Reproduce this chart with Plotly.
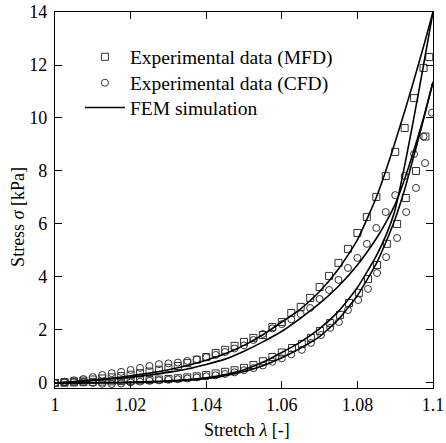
import plotly.graph_objects as go

# ---------------- data ----------------
lam_mfd_load = [1.0000, 1.0025, 1.0050, 1.0075, 1.0100, 1.0125, 1.0150, 1.0175, 1.0200, 1.0225,
                1.0250, 1.0275, 1.0300, 1.0325, 1.0350, 1.0375, 1.0400, 1.0425, 1.0450, 1.0475,
                1.0500, 1.0525, 1.0550, 1.0575, 1.0600, 1.0625, 1.0650, 1.0675, 1.0700, 1.0725,
                1.0750, 1.0775, 1.0800, 1.0825, 1.0850, 1.0875, 1.0900, 1.0925, 1.0950, 1.0975, 1.0990]
sig_mfd_load = [0.00, 0.03, 0.06, 0.09, 0.13, 0.17, 0.21, 0.26, 0.31, 0.37,
                0.43, 0.50, 0.57, 0.64, 0.75, 0.88, 0.98, 1.13, 1.25, 1.40,
                1.55, 1.70, 1.81, 2.11, 2.30, 2.64, 2.87, 3.21, 3.62, 4.04,
                4.53, 5.06, 5.66, 6.26, 7.02, 7.81, 8.72, 9.62, 10.75, 11.89, 12.30]

lam_mfd_unload = [1.0980, 1.0955, 1.0928, 1.0905, 1.0878, 1.0852, 1.0828, 1.0804, 1.0778, 1.0754,
                  1.0728, 1.0701, 1.0677, 1.0653, 1.0627, 1.0600, 1.0575, 1.0550, 1.0525, 1.0500,
                  1.0475, 1.0450, 1.0425, 1.0400, 1.0375, 1.0350, 1.0325, 1.0300, 1.0275, 1.0250,
                  1.0225, 1.0200, 1.0175, 1.0150, 1.0125, 1.0100, 1.0075, 1.0050, 1.0025, 1.0000]
sig_mfd_unload = [9.30, 8.00, 6.98, 6.00, 5.25, 4.45, 3.92, 3.40, 3.02, 2.57,
                  2.26, 1.96, 1.70, 1.47, 1.32, 1.15, 0.98, 0.82, 0.68, 0.57,
                  0.48, 0.42, 0.36, 0.30, 0.25, 0.21, 0.18, 0.15, 0.13, 0.11,
                  0.10, 0.08, 0.07, 0.06, 0.05, 0.04, 0.03, 0.02, 0.01, 0.00]

lam_cfd_load = [1.0000, 1.0025, 1.0050, 1.0075, 1.0100, 1.0125, 1.0150, 1.0175, 1.0200, 1.0225,
                1.0250, 1.0275, 1.0300, 1.0325, 1.0350, 1.0375, 1.0400, 1.0425, 1.0450, 1.0475,
                1.0500, 1.0525, 1.0550, 1.0575, 1.0600, 1.0625, 1.0650, 1.0675, 1.0700, 1.0725,
                1.0750, 1.0775, 1.0800, 1.0825, 1.0850, 1.0875, 1.0900, 1.0925, 1.0950, 1.0975, 1.0997]
sig_cfd_load = [0.00, 0.05, 0.10, 0.15, 0.22, 0.30, 0.37, 0.42, 0.49, 0.57,
                0.64, 0.71, 0.74, 0.77, 0.83, 0.89, 0.97, 1.06, 1.17, 1.30,
                1.42, 1.62, 1.85, 2.06, 2.22, 2.40, 2.60, 2.83, 3.17, 3.51,
                3.89, 4.34, 4.72, 5.25, 5.85, 6.45, 7.09, 7.81, 8.64, 9.30, 10.20]

lam_cfd_unload = [1.0979, 1.0955, 1.0929, 1.0905, 1.0876, 1.0852, 1.0828, 1.0802, 1.0775, 1.0751,
                  1.0728, 1.0704, 1.0677, 1.0653, 1.0625, 1.0600, 1.0575, 1.0550, 1.0525, 1.0500,
                  1.0475, 1.0450, 1.0425, 1.0400, 1.0375, 1.0350, 1.0325, 1.0300, 1.0275, 1.0250,
                  1.0225, 1.0200, 1.0175, 1.0150, 1.0125, 1.0100, 1.0075, 1.0050, 1.0025, 1.0000]
sig_cfd_unload = [8.30, 7.36, 6.45, 5.47, 4.75, 4.15, 3.55, 3.13, 2.75, 2.30,
                  2.08, 1.81, 1.51, 1.25, 1.08, 0.93, 0.80, 0.66, 0.56, 0.48,
                  0.40, 0.34, 0.29, 0.25, 0.21, 0.17, 0.14, 0.12, 0.10, 0.08,
                  0.05, 0.02, -0.02, -0.04, -0.03, 0.00, 0.02, 0.03, 0.02, 0.00]

# FEM simulation curves
lam_fem = [1.000, 1.005, 1.010, 1.015, 1.020, 1.025, 1.030, 1.035, 1.040, 1.045,
           1.050, 1.055, 1.060, 1.065, 1.070, 1.075, 1.080, 1.085, 1.0875, 1.090,
           1.0925, 1.095, 1.0975, 1.100]
fem_mfd_load = [0.00, 0.05, 0.11, 0.18, 0.27, 0.37, 0.50, 0.66, 0.86, 1.10,
                1.42, 1.82, 2.30, 2.80, 3.45, 4.30, 5.40, 7.00, 8.00, 9.10,
                10.25, 11.45, 12.70, 14.00]
fem_mfd_unload = [0.00, 0.00, 0.01, 0.02, 0.03, 0.05, 0.08, 0.13, 0.20, 0.32,
                  0.50, 0.78, 1.15, 1.55, 2.05, 2.70, 3.60, 4.80, 5.55, 6.55,
                  8.20, 10.05, 12.00, 14.00]
fem_cfd_load = [0.00, 0.04, 0.09, 0.15, 0.22, 0.30, 0.40, 0.53, 0.70, 0.90,
                1.20, 1.55, 1.95, 2.45, 3.00, 3.65, 4.45, 5.45, 6.05, 6.75,
                7.70, 8.80, 10.00, 11.36]
fem_cfd_unload = [0.00, 0.00, 0.00, 0.00, 0.01, 0.03, 0.06, 0.10, 0.16, 0.27,
                  0.43, 0.65, 0.95, 1.32, 1.75, 2.40, 3.30, 4.50, 5.30, 6.20,
                  7.30, 8.60, 9.95, 11.36]

x_ticks = [1.0, 1.02, 1.04, 1.06, 1.08, 1.1]
x_ticktext = ["1", "1.02", "1.04", "1.06", "1.08", "1.1"]
y_ticks = [0, 2, 4, 6, 8, 10, 12, 14]

# ---------------- figure ----------------
FONT = "Liberation Serif, Times New Roman, serif"
mk_col = "#333333"
fig = go.Figure()

sq = dict(symbol="square-open", size=7, color=mk_col, line=dict(width=1, color=mk_col))
ci = dict(symbol="circle-open", size=7, color=mk_col, line=dict(width=1, color=mk_col))

fig.add_trace(go.Scatter(x=lam_mfd_load, y=sig_mfd_load, mode="markers", marker=sq,
                         name="Experimental data (MFD)", legend="legend", showlegend=True))
fig.add_trace(go.Scatter(x=lam_mfd_unload, y=sig_mfd_unload, mode="markers", marker=sq,
                         showlegend=False))
fig.add_trace(go.Scatter(x=lam_cfd_load, y=sig_cfd_load, mode="markers", marker=ci,
                         name="Experimental data (CFD)", legend="legend2", showlegend=True))
fig.add_trace(go.Scatter(x=lam_cfd_unload, y=sig_cfd_unload, mode="markers", marker=ci,
                         showlegend=False))

for i, ys in enumerate([fem_mfd_load, fem_mfd_unload, fem_cfd_load, fem_cfd_unload]):
    fig.add_trace(go.Scatter(x=lam_fem, y=ys, mode="lines",
                             line=dict(color="black", width=1.6, shape="spline", smoothing=0.5),
                             name="FEM simulation", legend="legend3", showlegend=(i == 0)))

axis_common = dict(showline=True, linecolor="black", linewidth=1.2, mirror="ticks",
                   ticks="inside", ticklen=7, tickwidth=1, tickcolor="black",
                   showgrid=False, zeroline=False, automargin=False,
                   tickfont=dict(family=FONT, size=18, color="black"))

leg_common = dict(x=0.066, xanchor="left", yanchor="middle", bgcolor="rgba(0,0,0,0)",
                  font=dict(family=FONT, size=19.5, color="black"), itemwidth=40)

fig.update_layout(
    width=446, height=443,
    margin=dict(l=55, r=13, t=12, b=55),
    paper_bgcolor="white", plot_bgcolor="white",
    font=dict(family=FONT, size=18, color="black"),
    showlegend=True,
    legend=dict(y=0.880, **leg_common),
    legend2=dict(y=0.811, **leg_common),
    legend3=dict(y=0.745, **leg_common),
    xaxis=dict(range=[1.0, 1.1], tickvals=x_ticks, ticktext=x_ticktext, **axis_common),
    yaxis=dict(range=[-0.19, 14], tickvals=y_ticks, ticklabelstandoff=3, **axis_common),
    annotations=[
        dict(text="Stretch <i>λ</i> [-]", xref="paper", yref="paper", x=0.508, y=-0.112,
             xanchor="center", yanchor="middle", showarrow=False,
             font=dict(family=FONT, size=18, color="black")),
        dict(text="Stress <i>σ</i> [kPa]", xref="paper", yref="paper", x=-0.098, y=0.455,
             xanchor="center", yanchor="middle", textangle=-90, showarrow=False,
             font=dict(family=FONT, size=18, color="black")),
    ],
)

# remove the default 8px page margin so the 446x443 figure fills the window exactly
fig.write_html("out.html", config={"displayModeBar": False},
               post_script="document.body.style.margin='0';")
